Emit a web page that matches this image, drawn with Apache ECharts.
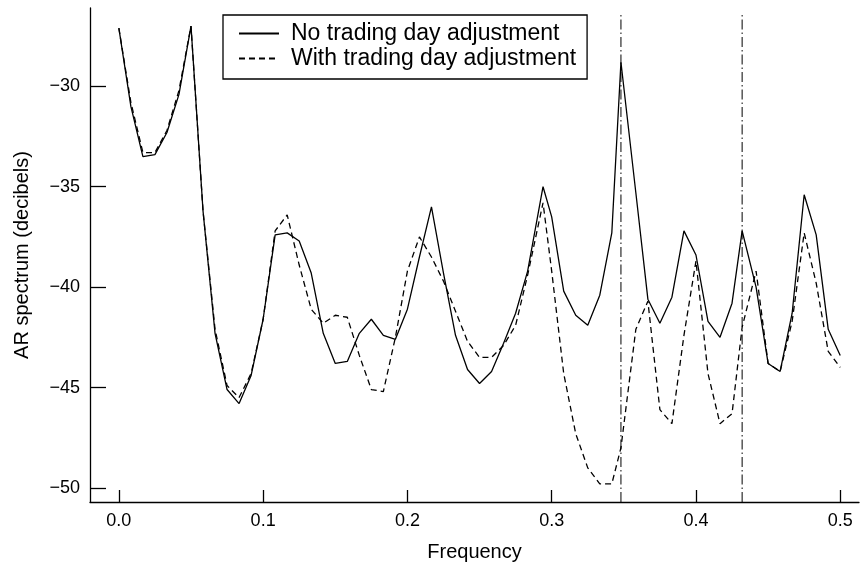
<!DOCTYPE html>
<html><head><meta charset="utf-8">
<script src="https://cdn.jsdelivr.net/npm/echarts@6/dist/echarts.min.js"></script>
<style>html,body{margin:0;padding:0;background:#fff}#c{width:860px;height:568px}</style>
</head><body><div id="c"></div>
<script>
// Frequency grid (cycles per month)
const frequencies = [0, 0.00833, 0.01667, 0.025, 0.03333, 0.04167, 0.05, 0.05833, 0.06667, 0.075,
  0.08333, 0.09167, 0.1, 0.10833, 0.11667, 0.125, 0.13333, 0.14167, 0.15, 0.15833,
  0.16667, 0.175, 0.18333, 0.19167, 0.2, 0.20833, 0.21667, 0.225, 0.23333, 0.24167,
  0.25, 0.25833, 0.26667, 0.275, 0.28333, 0.294, 0.3, 0.30833, 0.31667, 0.325,
  0.33333, 0.34167, 0.348, 0.35833, 0.36667, 0.375, 0.38333, 0.39167, 0.4, 0.40833,
  0.41667, 0.425, 0.432, 0.44167, 0.45, 0.45833, 0.46667, 0.475, 0.48333, 0.49167, 0.5];

const noAdjustment = [-27.1, -31.0, -33.5, -33.4, -32.3, -30.4, -27.0, -36.2, -42.3, -45.1,
  -45.8, -44.4, -41.6, -37.4, -37.3, -37.7, -39.3, -42.3, -43.8, -43.7,
  -42.3, -41.6, -42.4, -42.6, -41.1, -38.5, -36.0, -39.3, -42.4, -44.1,
  -44.8, -44.2, -42.8, -41.3, -39.2, -35.0, -36.5, -40.2, -41.4, -41.9,
  -40.4, -37.3, -28.8, -35.3, -40.6, -41.8, -40.5, -37.2, -38.4, -41.7,
  -42.5, -40.8, -37.2, -40.0, -43.8, -44.2, -41.3, -35.4, -37.4, -42.1, -43.4];

const withAdjustment = [-27.1, -30.8, -33.3, -33.3, -32.2, -30.2, -27.0, -36.2, -42.1, -44.9,
  -45.5, -44.3, -41.6, -37.2, -36.4, -38.9, -41.1, -41.8, -41.4, -41.5,
  -43.4, -45.1, -45.2, -42.5, -39.2, -37.5, -38.5, -39.7, -41.2, -42.7,
  -43.5, -43.5, -42.9, -41.9, -39.4, -35.8, -39.2, -44.3, -47.3, -49.0,
  -49.8, -49.8, -48.0, -42.1, -40.7, -46.1, -46.8, -42.4, -38.7, -44.3,
  -46.8, -46.3, -42.0, -39.2, -43.8, -44.2, -41.7, -37.3, -39.8, -43.2, -44.0];

const seriesNames = ['No trading day adjustment', 'With trading day adjustment'];
const xTickValues = [0, 0.1, 0.2, 0.3, 0.4, 0.5];
const yTickValues = [-50, -45, -40, -35, -30];
const tradingDayFreqs = [0.348, 0.432];
const refLineSpan = [-50.7, -26.3];

const FONT = 'Liberation Sans';
const pairs = (xs, ys) => xs.map((x, i) => [x, ys[i]]);

const chart = echarts.init(document.getElementById('c'), null, {renderer: 'canvas'});

const series = [
  {name: seriesNames[0], type: 'line', data: pairs(frequencies, noAdjustment), symbol: 'none',
   lineStyle: {color: '#000', width: 1.3, type: 'solid'}, itemStyle: {color: '#000'}, z: 3},
  {name: seriesNames[1], type: 'line', data: pairs(frequencies, withAdjustment), symbol: 'none',
   lineStyle: {color: '#000', width: 1.3, type: [6, 4]}, itemStyle: {color: '#000'}, z: 3}
];
tradingDayFreqs.forEach((f, k) => {
  series.push({name: 'td' + k, type: 'line', symbol: 'none', silent: true,
    data: refLineSpan.map(v => [f, v]),
    lineStyle: {color: '#000', width: 1, type: [10, 3, 1.5, 3]}, z: 2});
});

chart.setOption({
  animation: false,
  backgroundColor: '#fff',
  grid: {left: 90, right: 1, top: 8, bottom: 66},
  xAxis: {
    type: 'value', min: -0.02, max: 0.513,
    name: 'Frequency', nameLocation: 'middle', nameGap: 40,
    nameTextStyle: {fontSize: 20, color: '#000', fontFamily: FONT},
    axisLine: {show: true, onZero: false, lineStyle: {color: '#000', width: 1.3}},
    axisTick: {show: true, inside: true, length: 12, customValues: xTickValues, lineStyle: {color: '#000', width: 1.3}},
    axisLabel: {customValues: xTickValues, formatter: v => v.toFixed(1), fontSize: 18, color: '#000', fontFamily: FONT, margin: 10},
    splitLine: {show: false}
  },
  yAxis: {
    type: 'value', min: -50.7, max: -26.1,
    name: 'AR spectrum (decibels)', nameLocation: 'middle', nameGap: 58,
    nameTextStyle: {fontSize: 20, color: '#000', fontFamily: FONT},
    axisLine: {show: true, onZero: false, lineStyle: {color: '#000', width: 1.3}},
    axisTick: {show: true, inside: true, length: 16, customValues: yTickValues, lineStyle: {color: '#000', width: 1.3}},
    axisLabel: {customValues: yTickValues, formatter: v => String(v).replace('-', '\u2212'), fontSize: 18, color: '#000', fontFamily: FONT, margin: 10},
    splitLine: {show: false}
  },
  legend: {
    data: seriesNames, orient: 'vertical', left: 223, top: 15,
    itemWidth: 40, itemHeight: 14, itemGap: 0,
    padding: [6, 11, 8, 15],
    borderColor: '#000', borderWidth: 1.3, backgroundColor: '#fff',
    itemStyle: {opacity: 0},
    textStyle: {fontSize: 23, color: '#000', fontFamily: FONT, lineHeight: 25, padding: [0, 0, 0, 7]}
  },
  series: series
});
</script></body></html>
